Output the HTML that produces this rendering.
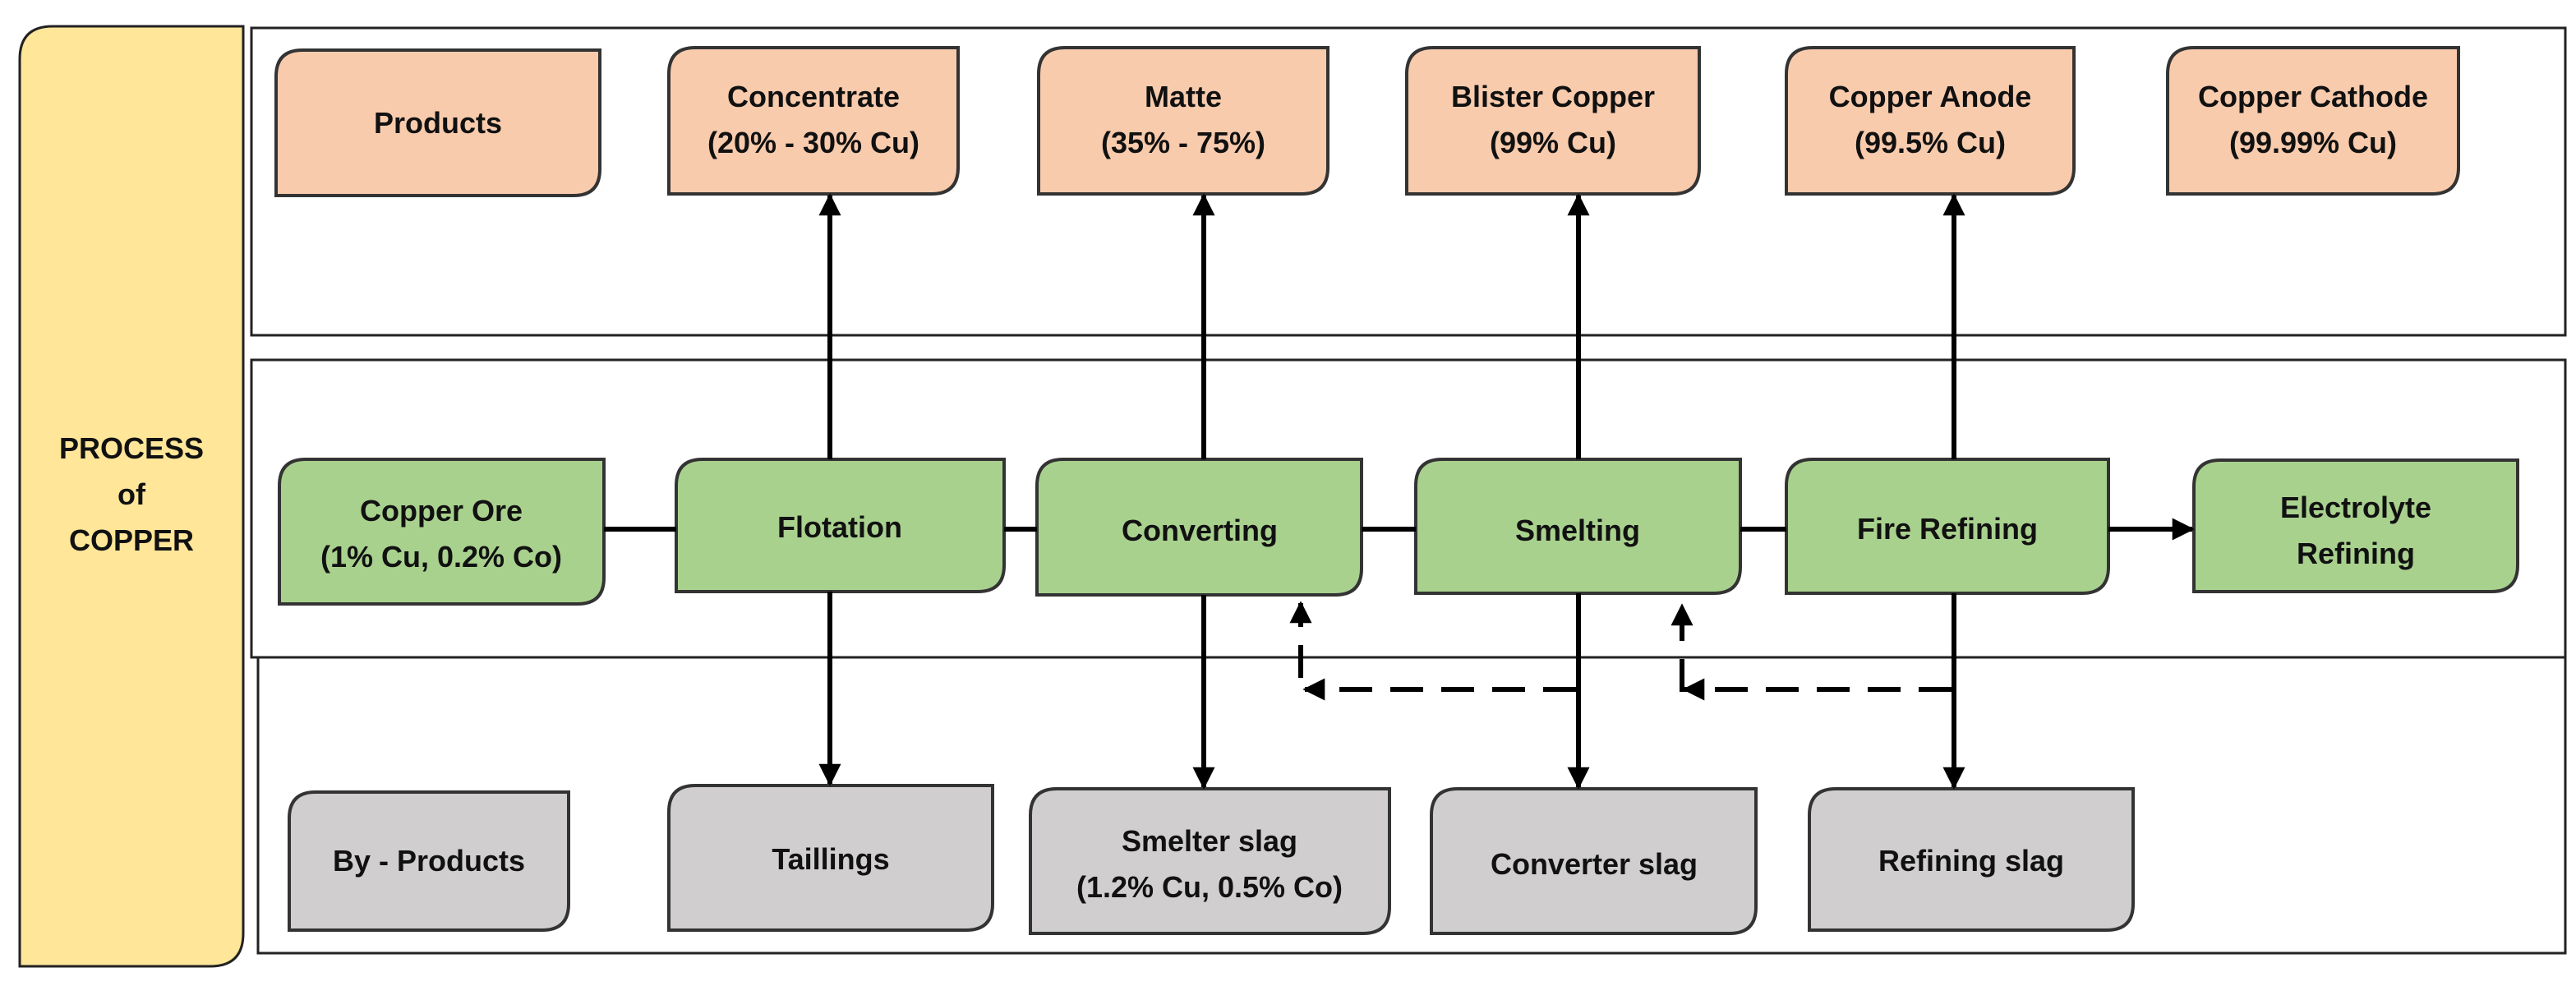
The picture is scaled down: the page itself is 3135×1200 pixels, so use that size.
<!DOCTYPE html>
<html><head><meta charset="utf-8"><style>
html,body{margin:0;padding:0;background:#fff}
svg{display:block}
text{font-family:"Liberation Sans",sans-serif;font-weight:bold;font-size:36px;fill:#111;text-anchor:middle}
</style></head><body>
<svg width="3135" height="1200" viewBox="0 0 3135 1200" xmlns="http://www.w3.org/2000/svg">
<defs>
<marker id="ah" viewBox="0 0 10 10" refX="9" refY="5" markerWidth="4.5" markerHeight="4.5" orient="auto" markerUnits="strokeWidth"><path d="M0,0 L10,5 L0,10 z" fill="#000"/></marker>
</defs>
<path d="M24,72 Q24,32 64,32 L296,32 L296,1136 Q296,1176 256,1176 L24,1176 Z" fill="#FFE699" stroke="#222" stroke-width="3"/>
<text x="160" y="558">PROCESS</text>
<text x="160" y="614">of</text>
<text x="160" y="670">COPPER</text>
<rect x="306" y="34" width="2816" height="374" fill="none" stroke="#222" stroke-width="3"/>
<rect x="306" y="438" width="2816" height="362" fill="none" stroke="#222" stroke-width="3"/>
<rect x="314" y="800" width="2808" height="360" fill="none" stroke="#222" stroke-width="3"/>
<g stroke="#333" stroke-width="4">
<path d="M336,93 Q336,61 368,61 L730,61 L730,206 Q730,238 698,238 L336,238 Z" fill="#F8CBAD"/>
<path d="M814,90 Q814,58 846,58 L1166,58 L1166,204 Q1166,236 1134,236 L814,236 Z" fill="#F8CBAD"/>
<path d="M1264,90 Q1264,58 1296,58 L1616,58 L1616,204 Q1616,236 1584,236 L1264,236 Z" fill="#F8CBAD"/>
<path d="M1712,90 Q1712,58 1744,58 L2068,58 L2068,204 Q2068,236 2036,236 L1712,236 Z" fill="#F8CBAD"/>
<path d="M2174,90 Q2174,58 2206,58 L2524,58 L2524,204 Q2524,236 2492,236 L2174,236 Z" fill="#F8CBAD"/>
<path d="M2638,90 Q2638,58 2670,58 L2992,58 L2992,204 Q2992,236 2960,236 L2638,236 Z" fill="#F8CBAD"/>
<path d="M340,591 Q340,559 372,559 L735,559 L735,703 Q735,735 703,735 L340,735 Z" fill="#A9D18E"/>
<path d="M823,591 Q823,559 855,559 L1222,559 L1222,688 Q1222,720 1190,720 L823,720 Z" fill="#A9D18E"/>
<path d="M1262,591 Q1262,559 1294,559 L1657,559 L1657,692 Q1657,724 1625,724 L1262,724 Z" fill="#A9D18E"/>
<path d="M1723,591 Q1723,559 1755,559 L2118,559 L2118,690 Q2118,722 2086,722 L1723,722 Z" fill="#A9D18E"/>
<path d="M2174,591 Q2174,559 2206,559 L2566,559 L2566,690 Q2566,722 2534,722 L2174,722 Z" fill="#A9D18E"/>
<path d="M2670,592 Q2670,560 2702,560 L3064,560 L3064,688 Q3064,720 3032,720 L2670,720 Z" fill="#A9D18E"/>
<path d="M352,996 Q352,964 384,964 L692,964 L692,1100 Q692,1132 660,1132 L352,1132 Z" fill="#D0CECE"/>
<path d="M814,988 Q814,956 846,956 L1208,956 L1208,1100 Q1208,1132 1176,1132 L814,1132 Z" fill="#D0CECE"/>
<path d="M1254,992 Q1254,960 1286,960 L1691,960 L1691,1104 Q1691,1136 1659,1136 L1254,1136 Z" fill="#D0CECE"/>
<path d="M1742,992 Q1742,960 1774,960 L2137,960 L2137,1104 Q2137,1136 2105,1136 L1742,1136 Z" fill="#D0CECE"/>
<path d="M2202,992 Q2202,960 2234,960 L2596,960 L2596,1100 Q2596,1132 2564,1132 L2202,1132 Z" fill="#D0CECE"/>
</g>
<g stroke="#000" stroke-width="6" fill="none">
<line x1="735" y1="644" x2="823" y2="644"/>
<line x1="1222" y1="644" x2="1262" y2="644"/>
<line x1="1657" y1="644" x2="1723" y2="644"/>
<line x1="2118" y1="644" x2="2174" y2="644"/>
<line x1="2566" y1="644" x2="2668" y2="644" marker-end="url(#ah)"/>
<line x1="1010" y1="559" x2="1010" y2="238" marker-end="url(#ah)"/>
<line x1="1010" y1="720" x2="1010" y2="954" marker-end="url(#ah)"/>
<line x1="1465" y1="559" x2="1465" y2="238" marker-end="url(#ah)"/>
<line x1="1465" y1="724" x2="1465" y2="958" marker-end="url(#ah)"/>
<line x1="1921" y1="559" x2="1921" y2="238" marker-end="url(#ah)"/>
<line x1="1921" y1="722" x2="1921" y2="958" marker-end="url(#ah)"/>
<line x1="2378" y1="559" x2="2378" y2="238" marker-end="url(#ah)"/>
<line x1="2378" y1="722" x2="2378" y2="958" marker-end="url(#ah)"/>
<g stroke-dasharray="40,22">
<line x1="1918" y1="839" x2="1588" y2="839" marker-end="url(#ah)"/>
<line x1="1583" y1="825" x2="1583" y2="734" marker-end="url(#ah)"/>
<line x1="2375" y1="839" x2="2050" y2="839" marker-end="url(#ah)"/>
<line x1="2047" y1="842" x2="2047" y2="737" marker-end="url(#ah)"/>
</g>
</g>
<text x="533" y="162">Products</text>
<text x="990" y="130">Concentrate</text><text x="990" y="186">(20% - 30% Cu)</text>
<text x="1440" y="130">Matte</text><text x="1440" y="186">(35% - 75%)</text>
<text x="1890" y="130">Blister Copper</text><text x="1890" y="186">(99% Cu)</text>
<text x="2349" y="130">Copper Anode</text><text x="2349" y="186">(99.5% Cu)</text>
<text x="2815" y="130">Copper Cathode</text><text x="2815" y="186">(99.99% Cu)</text>
<text x="537" y="634">Copper Ore</text><text x="537" y="690">(1% Cu, 0.2% Co)</text>
<text x="1022" y="654">Flotation</text>
<text x="1460" y="658">Converting</text>
<text x="1920" y="658">Smelting</text>
<text x="2370" y="656">Fire Refining</text>
<text x="2867" y="630">Electrolyte</text><text x="2867" y="686">Refining</text>
<text x="522" y="1060">By - Products</text>
<text x="1011" y="1058">Taillings</text>
<text x="1472" y="1036">Smelter slag</text><text x="1472" y="1092">(1.2% Cu, 0.5% Co)</text>
<text x="1940" y="1064">Converter slag</text>
<text x="2399" y="1060">Refining slag</text>
</svg>
</body></html>
